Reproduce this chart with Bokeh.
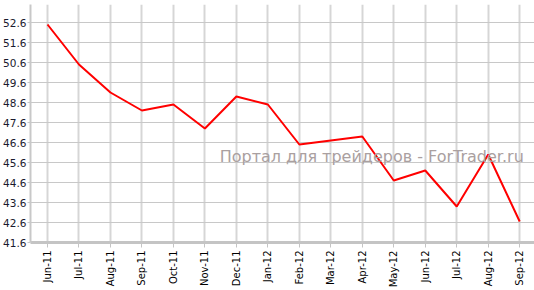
from bokeh.plotting import figure
from bokeh.models import FixedTicker, Label, Range1d
from bokeh.embed import file_html
from bokeh.resources import INLINE

months = ["Jun-11", "Jul-11", "Aug-11", "Sep-11", "Oct-11", "Nov-11", "Dec-11", "Jan-12",
          "Feb-12", "Mar-12", "Apr-12", "May-12", "Jun-12", "Jul-12", "Aug-12", "Sep-12"]
values = [52.5, 50.5, 49.1, 48.2, 48.5, 47.3, 48.9, 48.5,
          46.5, 46.7, 46.9, 44.7, 45.2, 43.4, 46.0, 42.65]
y_ticks = [41.6, 42.6, 43.6, 44.6, 45.6, 46.6, 47.6, 48.6, 49.6, 50.6, 51.6, 52.6]
watermark = "Портал для трейдеров - ForTrader.ru"

xs = list(range(len(months)))

p = figure(width=534, height=290, output_backend="svg", toolbar_location=None,
           x_range=Range1d(-0.54, 15.47), y_range=Range1d(41.6, 53.5),
           min_border_left=28, min_border_right=0, min_border_top=4, min_border_bottom=48)
p.outline_line_color = None
p.background_fill_color = "white"

p.line(xs, values, line_color="#ff0000", line_width=2)

# x axis
p.xaxis.ticker = FixedTicker(ticks=xs)
p.xaxis.major_label_overrides = {i: m for i, m in enumerate(months)}
p.xaxis.major_label_orientation = 1.5708
p.xaxis.major_label_text_font = "DejaVu Sans"
p.xaxis.major_label_text_font_size = "10px"
p.xaxis.major_label_text_color = "#000000"
p.xaxis.axis_line_color = "#c4c4c4"
p.xaxis.axis_line_width = 3
p.xaxis.major_tick_line_color = "#c4c4c4"
p.xaxis.major_tick_in = 0
p.xaxis.major_tick_out = 5
p.xaxis.minor_tick_line_color = None
p.xaxis.major_label_standoff = 3

# y axis
p.yaxis.ticker = FixedTicker(ticks=y_ticks)
p.yaxis.major_label_overrides = {t: f"{t:.1f}" for t in y_ticks}
p.yaxis.major_label_text_font = "DejaVu Sans"
p.yaxis.major_label_text_font_size = "10.5px"
p.yaxis.major_label_text_color = "#1a1a2e"
p.yaxis.axis_line_color = "#c8c8c8"
p.yaxis.axis_line_width = 2
p.yaxis.major_tick_line_color = "#c8c8c8"
p.yaxis.major_tick_in = 0
p.yaxis.major_tick_out = 3
p.yaxis.minor_tick_line_color = None
p.yaxis.major_label_standoff = 1

p.xgrid.grid_line_color = "#d6d6d6"
p.xgrid.grid_line_width = 2
p.ygrid.grid_line_color = "#c8c8c8"
p.ygrid.grid_line_width = 1

p.add_layout(Label(x=5.47, y=45.92, text=watermark, text_font="DejaVu Sans",
                   text_font_size="16px", text_color="#aaa0a0", text_baseline="alphabetic"))

open("out.html", "w").write(file_html(p, INLINE))
